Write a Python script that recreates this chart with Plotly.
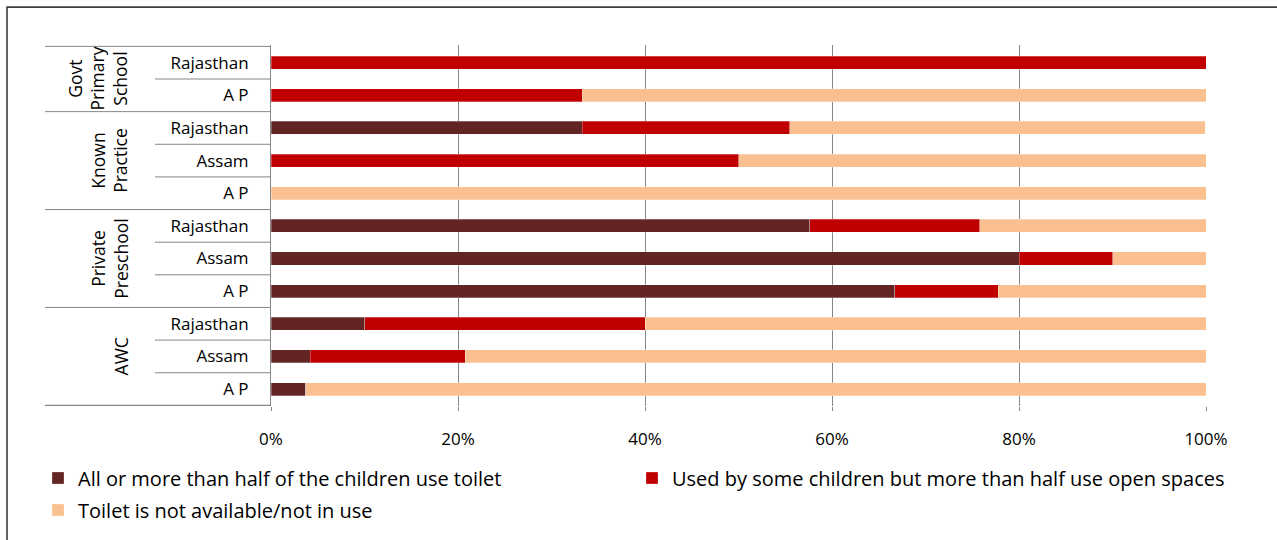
import plotly.graph_objects as go

# Facility groups and the states surveyed within each (top to bottom)
groups = ["Govt Primary School", "Known Practice", "Private Preschool", "AWC"]
group_lines = [["Govt", "Primary", "School"], ["Known", "Practice"],
               ["Private", "Preschool"], ["AWC"]]
states = [
    ["Rajasthan", "A P"],
    ["Rajasthan", "Assam", "A P"],
    ["Rajasthan", "Assam", "A P"],
    ["Rajasthan", "Assam", "A P"],
]

# Share of facilities (%) in each toilet-use category, row order as above
use_toilet = [0.0, 0.0, 33.3, 0.0, 0.0, 57.6, 80.0, 66.7, 10.0, 4.2, 3.7]
some_use = [100.0, 33.3, 22.2, 50.0, 0.0, 18.2, 10.0, 11.1, 30.0, 16.6, 0.0]
not_avail = [0.0, 66.7, 44.4, 50.0, 100.0, 24.2, 10.0, 22.2, 60.0, 79.2, 96.3]

series_names = [
    "All or more than half of the children use toilet",
    "Used by some children but more than half use open spaces",
    "Toilet is not available/not in use",
]
series_colors = ["#632523", "#C00000", "#FAC090"]
x_ticks = [0, 20, 40, 60, 80, 100]
x_tick_text = ["0%", "20%", "40%", "60%", "80%", "100%"]

# Unique category keys per row; visible labels are the state names
row_keys, row_labels, group_of_row = [], [], []
for gi, (g, sts) in enumerate(zip(groups, states)):
    for s in sts:
        row_keys.append(f"{g} | {s}")
        row_labels.append(s)
        group_of_row.append(gi)

# Page geometry (px)
W, H = 1277, 540
ML, MR, MT, MB = 271, 71, 45, 133
PW, PH = W - ML - MR, H - MT - MB
FONT = "Open Sans"
GRID = "#868686"


def px_x(p):
    return (p - ML) / PW


def px_y(p):
    return (H - MB - p) / PH


fig = go.Figure()
values = [use_toilet, some_use, not_avail]
for i, (name, vals, col) in enumerate(zip(series_names, values, series_colors)):
    fig.add_trace(go.Bar(
        y=row_keys, x=vals, name=name, orientation="h",
        marker=dict(color=col, line=dict(color="rgba(255,255,255,0.45)", width=0.6)),
        legend="legend2" if i == 2 else "legend",
        hovertemplate="%{x:.1f}%<extra>" + name + "</extra>",
    ))

shapes = []
n = len(row_keys)
# row dividers in the label column; group dividers run the full label width
for i in range(n + 1):
    boundary = i - 0.5
    if i == 0 or i == n or group_of_row[i] != group_of_row[i - 1]:
        x0 = px_x(45)
    else:
        x0 = px_x(155)
    shapes.append(dict(type="line", xref="paper", yref="y", x0=x0, x1=0,
                       y0=boundary, y1=boundary,
                       line=dict(color=GRID, width=1.3 if i == n else 1)))

# outer frame around the chart
shapes.append(dict(type="rect", xref="paper", yref="paper",
                   x0=px_x(7), x1=px_x(W + 10), y0=px_y(H + 10), y1=px_y(7),
                   line=dict(color="#3f3f3f", width=1.6), layer="below"))

annotations = []
start = 0
for gi, lines in enumerate(group_lines):
    cnt = len(states[gi])
    mid = start + (cnt - 1) / 2
    centre_px = 121 - (len(lines) - 1) * 23.5 / 2
    annotations.append(dict(
        text="<br>".join(lines), xref="paper", yref="y", x=px_x(centre_px), y=mid,
        xanchor="center", yanchor="middle", textangle=-90, showarrow=False,
        font=dict(family=FONT, size=17.5, color="#000000"), align="center"))
    start += cnt

fig.update_layout(
    width=W, height=H,
    margin=dict(l=ML, r=MR, t=MT, b=MB),
    barmode="stack", bargap=0.6,
    paper_bgcolor="white", plot_bgcolor="white",
    font=dict(family=FONT, size=17, color="#000000"),
    shapes=shapes, annotations=annotations,
    xaxis=dict(range=[0, 100], tickvals=x_ticks, ticktext=x_tick_text,
               showgrid=True, gridcolor=GRID, gridwidth=1,
               ticks="outside", ticklen=4, tickcolor=GRID,
               ticklabelstandoff=14, showline=False, zeroline=False,
               fixedrange=True),
    yaxis=dict(type="category", categoryorder="array", categoryarray=row_keys,
               autorange="reversed", tickvals=row_keys, ticktext=row_labels,
               showline=True, linecolor=GRID, linewidth=1, ticks="",
               ticklabelstandoff=18, showgrid=False, fixedrange=True),
    legend=dict(orientation="h", x=px_x(38), y=px_y(478), xanchor="left",
                yanchor="middle", entrywidth=549, entrywidthmode="pixels",
                font=dict(family=FONT, size=20), bgcolor="rgba(0,0,0,0)",
                traceorder="normal"),
    legend2=dict(orientation="h", x=px_x(38), y=px_y(510), xanchor="left",
                 yanchor="middle", font=dict(family=FONT, size=20),
                 bgcolor="rgba(0,0,0,0)"),
    showlegend=True,
)

fig.write_html("out.html")
